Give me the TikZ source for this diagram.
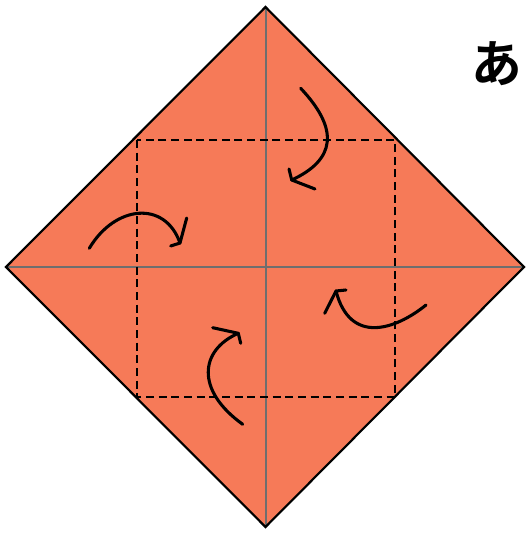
\documentclass[tikz,border=0pt]{standalone}
\usepackage{fontspec}
\newfontfamily\cjk{Noto Sans CJK JP Bold}
\definecolor{paper}{HTML}{F67A58}
\definecolor{creasegrey}{HTML}{6E6E6E}
\begin{document}
\begin{tikzpicture}[x=0.75pt,y=-0.75pt,
  curl/.style={line width=2.3pt,line cap=round,line join=round},
  crease/.style={creasegrey,line width=1.5pt},
  dashedsq/.style={black,line width=1pt,dash pattern=on 6pt off 3.5pt}]
\useasboundingbox (0,0) rectangle (525,535);
% sheet
\coordinate (T) at (265.5,7);
\coordinate (R) at (524,267);
\coordinate (B) at (265.5,527);
\coordinate (L) at (6,267);
\fill[paper] (T) -- (R) -- (B) -- (L) -- cycle;
\draw[crease] (T) -- (B);
\draw[crease] (L) -- (R);
\draw[dashedsq] (137,140) rectangle (395,397);
\draw[line width=1.6pt,line join=miter] (T) -- (R) -- (B) -- (L) -- cycle;
% arrows
\draw[curl] (300.7,88.3) .. controls (340,130) and (335,160) .. (291.7,180);
\draw[curl] (289,169) -- (291.7,180) -- (315,189);
\draw[curl] (89.3,248.3) .. controls (115,205) and (165,200) .. (180,243);
\draw[curl] (186.7,218) -- (180,243) -- (170.7,246);
\draw[curl] (426,305) .. controls (395,330) and (350,345) .. (336,291);
\draw[curl] (324.7,313.3) -- (336,291) -- (346,290);
\draw[curl] (242.7,424.3) .. controls (195,390) and (200,350) .. (238.3,333.3);
\draw[curl] (212.7,327.7) -- (238.3,333.3) -- (240.7,343.3);
\node[font=\cjk\fontsize{38}{40}\selectfont] (label) at (497,64) {あ};
\end{tikzpicture}
\end{document}
